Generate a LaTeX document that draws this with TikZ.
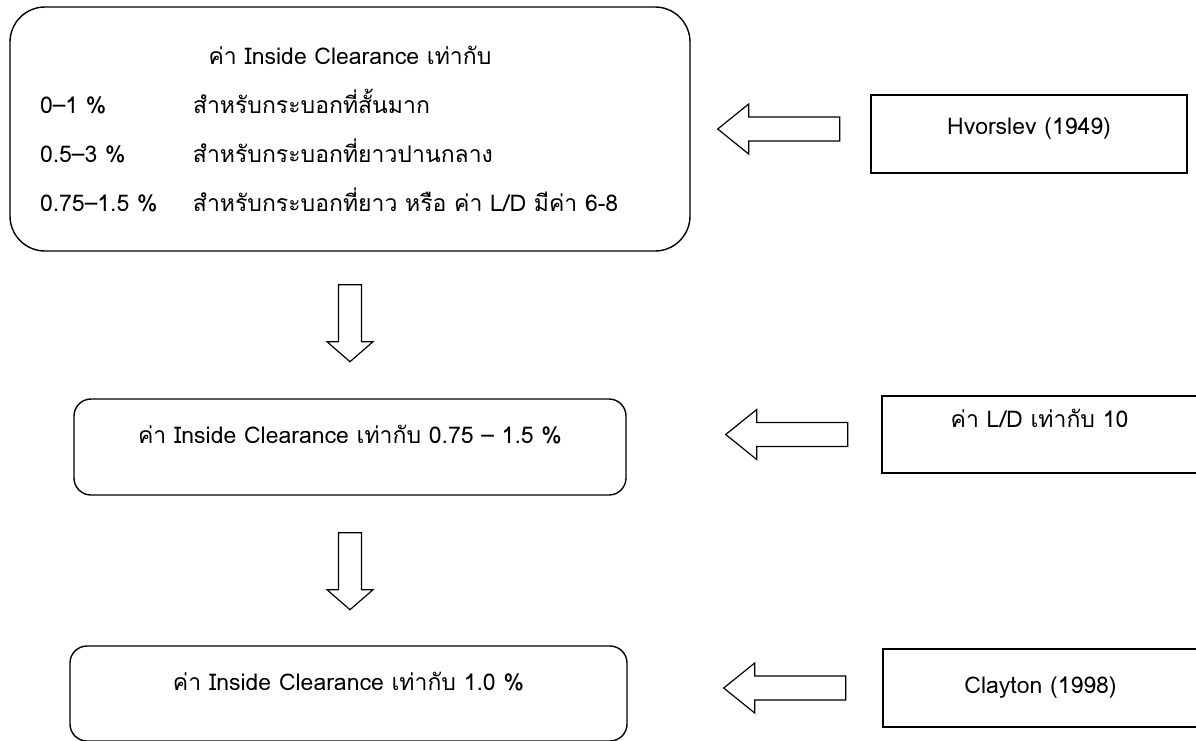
\documentclass[tikz,border=0pt]{standalone}
\usepackage{fontspec}
\newfontfamily\thaifont[Script=Thai]{Loma}
\usepackage{tikz}
\usetikzlibrary{positioning}
\tikzset{
  boxtext/.style={font=\thaifont\fontsize{23}{28}\selectfont, text height=17pt, inner sep=0pt},
  roundbox/.style={draw, line width=1.4pt, rounded corners=17pt},
  sidebox/.style={draw, line width=1.4pt},
  hollowarrow/.style={draw, line width=1.2pt, fill=white, line join=miter}
}
% hollow block arrows, drawn from the tip
\newcommand{\leftblock}[1]{\draw[hollowarrow] (#1) -- ++(31,-25) -- ++(0,13) -- ++(91,0) -- ++(0,24) -- ++(-91,0) -- ++(0,13) -- cycle;}
\newcommand{\downblock}[1]{\draw[hollowarrow] (#1) -- ++(-23,-20) -- ++(11.5,0) -- ++(0,-57) -- ++(23,0) -- ++(0,57) -- ++(11.5,0) -- cycle;}

\begin{document}
\begin{tikzpicture}[x=1pt, y=-1pt]
  \clip (0,0) rectangle (1196,740);

  % left column
  \node[roundbox, rounded corners=35pt, font=\thaifont\fontsize{23}{49}\selectfont,
    text width=620pt, inner xsep=30pt, inner ysep=0pt, minimum height=244, align=left] (clearance) at (350,129)
    {\makebox[620pt]{ค่า Inside Clearance เท่ากับ}\\
     \makebox[153pt][l]{0–1 \%}สำหรับกระบอกที่สั้นมาก\\
     \makebox[153pt][l]{0.5–3 \%}สำหรับกระบอกที่ยาวปานกลาง\\
     \makebox[153pt][l]{0.75–1.5 \%}สำหรับกระบอกที่ยาว หรือ ค่า L/D มีค่า 6-8};
  \node[roundbox, boxtext, text depth=24pt, minimum width=552, minimum height=96] (range) at (350,447)
    {ค่า Inside Clearance เท่ากับ 0.75 – 1.5 \%};
  \node[roundbox, boxtext, text depth=23pt, minimum width=557, minimum height=95] (final) at (348.5,693.5)
    {ค่า Inside Clearance เท่ากับ 1.0 \%};

  % right column
  \node[sidebox, boxtext, text depth=16pt, minimum width=316, minimum height=78] (hvorslev) at (1029,134) {Hvorslev (1949)};
  \node[sidebox, boxtext, text depth=31pt, minimum width=315, minimum height=77] (ratio) at (1039.5,434.5) {ค่า L/D เท่ากับ 10};
  \node[sidebox, boxtext, text depth=6pt, minimum width=315, minimum height=78] (clayton) at (1040.5,688) {Clayton (1998)};

  % arrows
  \coordinate (tipA) at ([xshift=27, yshift=5]clearance.east |- hvorslev.west);
  \coordinate (tipB) at ([xshift=99]range.east |- ratio.west);
  \coordinate (tipC) at ([xshift=96]final.east |- clayton.west);
  \coordinate (tipD) at ([yshift=-110]clearance.south);
  \coordinate (tipE) at ([yshift=-114]range.south);
  \leftblock{tipA}
  \leftblock{tipB}
  \leftblock{tipC}
  \downblock{tipD}
  \downblock{tipE}
\end{tikzpicture}
\end{document}
